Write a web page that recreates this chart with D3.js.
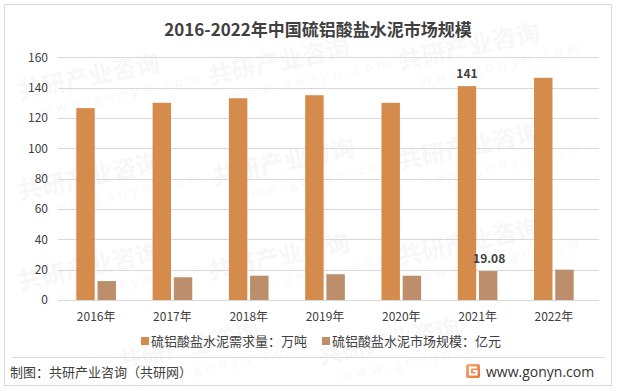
<!DOCTYPE html>
<html>
<head>
<meta charset="utf-8">
<script src="https://cdn.jsdelivr.net/npm/d3@7"></script>
<style>
  body { margin: 0; background: #fff; }
  svg { display: block; font-family: "Noto Sans CJK SC", "Noto Sans", sans-serif; }
</style>
</head>
<body>
<svg id="chart" width="617" height="391"></svg>
<script>
// data
let years = ['2016年', '2017年', '2018年', '2019年', '2020年', '2021年', '2022年'];
let demand = [126.5, 130, 133, 135, 130, 141, 146.5];   // 万吨
let market = [12.5, 15, 16, 17, 16, 19.08, 20];       // 亿元
let seriesNames = ['硫铝酸盐水泥需求量：万吨', '硫铝酸盐水泥市场规模：亿元'];
let yTicks = [0, 20, 40, 60, 80, 100, 120, 140, 160];
let labelled = {'2021年': [141, 19.08]};

let colors = ['#d48b4c', '#bc8e6c'];
let textCol = '#404040';

let svg = d3.select('#chart');

// frame
svg.append('rect')
    .attr('x', 4.5).attr('y', 4.5)
    .attr('width', 607).attr('height', 381)
    .attr('fill', '#fff')
    .attr('stroke', '#d9d9d9')
    .attr('stroke-width', 1);

// faint watermarks (kept inside the frame)
let wm = svg.append('g').attr('class', 'wm');
let wmSpots = [[20, 100], [210, 85], [400, 70], [20, 200], [215, 185], [400, 170],
    [20, 290], [210, 280], [400, 265], [120, 370], [320, 365]];
wmSpots.forEach(function (p) {
    let g = wm.append('g').attr('transform', 'translate(' + p[0] + ',' + p[1] + ') rotate(-12)');
    g.append('text')
        .attr('font-size', 24).attr('font-weight', 700)
        .attr('fill', '#000').attr('opacity', 0.028)
        .text('共研产业咨询');
    g.append('text')
        .attr('x', 18).attr('y', 20)
        .attr('font-size', 13).attr('letter-spacing', 5)
        .attr('fill', '#000').attr('opacity', 0.028)
        .text('www.gonyn.com');
});

// title
svg.append('text')
    .attr('x', 318).attr('y', 36)
    .attr('text-anchor', 'middle')
    .attr('font-size', 17)
    .attr('font-weight', 700)
    .attr('fill', textCol)
    .text('2016-2022年中国硫铝酸盐水泥市场规模');

let plotL = 58, plotR = 592, plotT = 57.3, plotB = 300;

let x0 = d3.scaleBand().domain(years).range([plotL, plotR]).paddingInner(0.48).paddingOuter(0.24);
let x1 = d3.scaleBand().domain([0, 1]).range([0, x0.bandwidth()]).paddingInner(0.13);
let y = d3.scaleLinear().domain([0, 160]).range([plotB, plotT]);

// grid
svg.append('g').selectAll('line')
    .data(yTicks)
    .enter()
    .append('line')
    .attr('x1', plotL).attr('x2', 599)
    .attr('y1', (d) => Math.round(y(d)) + 0.5)
    .attr('y2', (d) => Math.round(y(d)) + 0.5)
    .attr('stroke', '#d9d9d9')
    .attr('stroke-width', 1);

// y axis labels
let yAxis = svg.append('g')
    .attr('transform', 'translate(' + (plotL - 10) + ',0)')
    .call(d3.axisLeft(y).tickValues(yTicks).tickSize(0).tickPadding(0));
yAxis.select('.domain').remove();
yAxis.selectAll('text')
    .attr('font-size', 12)
    .attr('font-family', '"Noto Sans CJK SC", sans-serif')
    .attr('fill', textCol);

// bars
let rows = years.map((yr, i) => ({year: yr, vals: [demand[i], market[i]]}));
let groups = svg.append('g').selectAll('g')
    .data(rows)
    .enter()
    .append('g')
    .attr('transform', (d) => 'translate(' + x0(d.year) + ',0)');

groups.selectAll('rect')
    .data((d) => d.vals.map((v, k) => ({k: k, v: v})))
    .enter()
    .append('rect')
    .attr('x', (d) => x1(d.k))
    .attr('width', x1.bandwidth())
    .attr('y', (d) => y(d.v))
    .attr('height', (d) => plotB - y(d.v))
    .attr('fill', (d) => colors[d.k]);

// value labels
groups.filter((d) => labelled[d.year])
    .selectAll('text')
    .data((d) => d.vals.map((v, k) => ({k: k, v: v, lab: labelled[d.year][k]})))
    .enter()
    .append('text')
    .attr('x', (d) => x1(d.k) + x1.bandwidth() / 2 + (d.k === 1 ? 1 : 0))
    .attr('y', (d) => y(d.v) - 8)
    .attr('text-anchor', 'middle')
    .attr('font-size', 12)
    .attr('font-weight', 700)
    .attr('fill', textCol)
    .text((d) => d.lab);

// x axis labels
let xAxis = svg.append('g')
    .attr('transform', 'translate(0,' + (plotB + 12) + ')')
    .call(d3.axisBottom(x0).tickSize(0).tickPadding(0));
xAxis.select('.domain').remove();
xAxis.selectAll('text')
    .attr('font-size', 12)
    .attr('font-family', '"Noto Sans CJK SC", sans-serif')
    .attr('fill', textCol);

// legend
let legX = [141, 322];
let leg = svg.append('g').selectAll('g')
    .data(seriesNames)
    .enter()
    .append('g')
    .attr('transform', (d, i) => 'translate(' + legX[i] + ',341)');
leg.append('rect')
    .attr('x', 0).attr('y', -4)
    .attr('width', 8).attr('height', 8)
    .attr('fill', (d, i) => colors[i]);
leg.append('text')
    .attr('x', 10).attr('y', 5)
    .attr('font-size', 13)
    .attr('fill', textCol)
    .text((d) => d);

// footer
svg.append('line')
    .attr('x1', 12).attr('x2', 605)
    .attr('y1', 357.5).attr('y2', 357.5)
    .attr('stroke', '#d9d9d9');

svg.append('text')
    .attr('x', 10).attr('y', 377)
    .attr('font-size', 13)
    .attr('fill', textCol)
    .text('制图：共研产业咨询（共研网）');

let logo = svg.append('g').attr('transform', 'translate(466,364)');
let grad = svg.append('defs').append('linearGradient')
    .attr('id', 'lg').attr('x1', 0).attr('y1', 0).attr('x2', 1).attr('y2', 1);
grad.append('stop').attr('offset', '0%').attr('stop-color', '#f6b37a');
grad.append('stop').attr('offset', '100%').attr('stop-color', '#ec6a3c');
logo.append('rect')
    .attr('width', 14).attr('height', 14).attr('rx', 2)
    .attr('fill', 'url(#lg)');
logo.append('path')
    .attr('d', 'M 11,3.5 H 4 V 10.5 H 10.5 V 7 H 7')
    .attr('fill', 'none')
    .attr('stroke', '#fff')
    .attr('stroke-width', 2);

svg.append('text')
    .attr('x', 486).attr('y', 377)
    .attr('font-size', 14)
    .attr('font-family', '"Open Sans", "DejaVu Sans", sans-serif')
    .attr('fill', '#333')
    .text('www.gonyn.com');
</script>
</body>
</html>
